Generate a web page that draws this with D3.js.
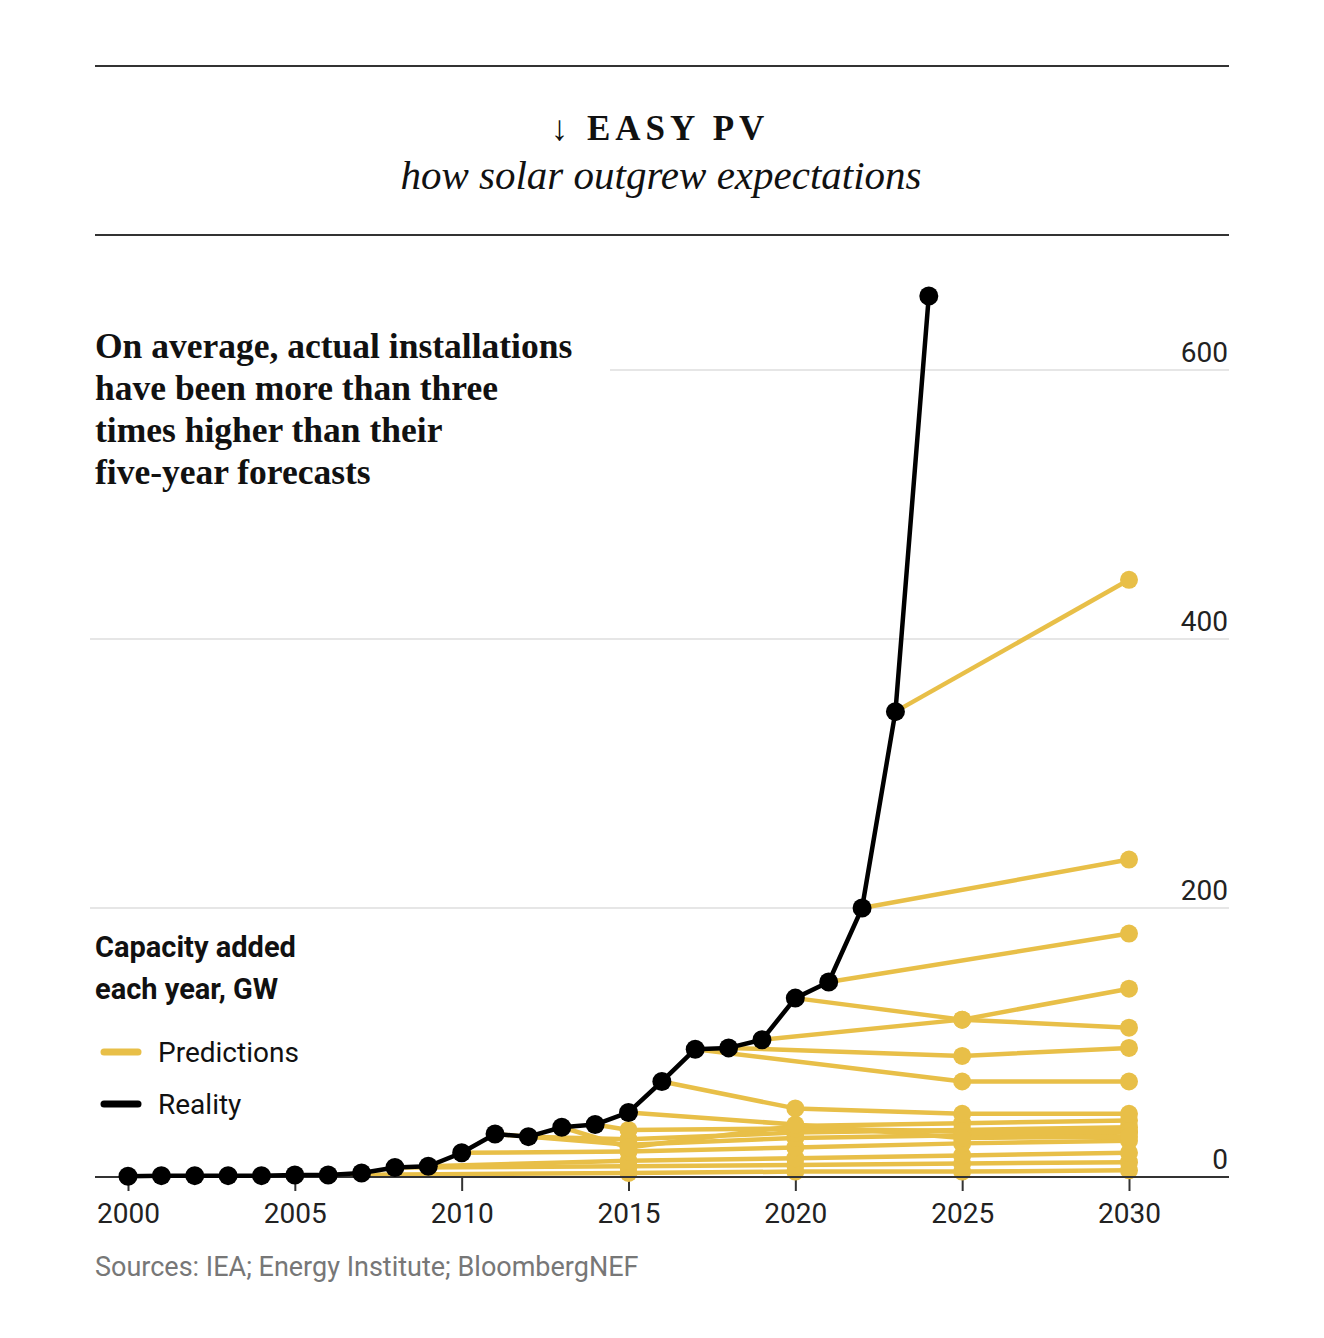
<!DOCTYPE html>
<html>
<head>
<meta charset="utf-8">
<script src="https://cdn.jsdelivr.net/npm/d3@7"></script>
<style>
  body { margin: 0; background: #fff; }
  svg { display: block; }
</style>
</head>
<body>
<div id="chart"></div>
<script>
// ---------------------------- data
var years = d3.range(2000, 2025);
var reality = [0.5, 1, 1, 1, 1, 1.5, 1.5, 3, 7, 8, 18, 32, 30, 37, 39, 48, 71, 95, 96, 102, 133, 145, 200, 346, 655];

// each forecast starts on the reality line and runs to its own points
var forecastFrom = [2006, 2008, 2009, 2010, 2011, 2012, 2013, 2014, 2015, 2016, 2017, 2018, 2019, 2020, 2021, 2022, 2023];
var forecastYears = [
  [2015, 2020, 2025, 2030],
  [2015, 2020, 2025, 2030],
  [2015, 2020, 2025, 2030],
  [2015, 2020, 2025, 2030],
  [2015, 2020, 2025, 2030],
  [2015, 2020, 2025, 2030],
  [2015, 2020, 2025, 2030],
  [2015, 2020, 2025, 2030],
  [2020, 2025, 2030],
  [2020, 2025, 2030],
  [2025, 2030],
  [2025, 2030],
  [2025, 2030],
  [2025, 2030],
  [2030],
  [2030],
  [2030]
];
var forecastValues = [
  [3, 4, 4, 5],
  [8, 9, 10, 11],
  [12, 14, 16, 18],
  [19, 22, 25, 27],
  [24, 29, 31, 33],
  [28, 33, 35, 37],
  [22, 38, 40, 42],
  [35, 36, 34, 34],
  [39, 29, 30],
  [51, 47, 47],
  [71, 71],
  [90, 96],
  [117, 111],
  [117, 140],
  [181],
  [236],
  [444]
];

var yTicks = [0, 200, 400, 600];
var xTicks = [2000, 2005, 2010, 2015, 2020, 2025, 2030];

var noteLines = ["On average, actual installations", "have been more than three", "times higher than their", "five-year forecasts"];
var legendTitle = ["Capacity added", "each year, GW"];
var legendItems = ["Predictions", "Reality"];

// ---------------------------- setup
var w = 1324;
var h = 1338;
var yellow = "#e8bf48";
var serif = "'Liberation Serif', 'DejaVu Serif', serif";
var sans = "Roboto, 'Liberation Sans', sans-serif";

var svg = d3.select("#chart")
    .append("svg")
    .attr("width", w)
    .attr("height", h);

var x = d3.scaleLinear().domain([2000, 2030]).range([128, 1129]);
var y = d3.scaleLinear().domain([0, 600]).range([1177, 370]);

// header rules and titles
svg.append("line").attr("x1", 95).attr("x2", 1229).attr("y1", 66).attr("y2", 66)
    .attr("stroke", "#333").attr("stroke-width", 2);
svg.append("line").attr("x1", 95).attr("x2", 1229).attr("y1", 235).attr("y2", 235)
    .attr("stroke", "#333").attr("stroke-width", 2);

svg.append("text")
    .attr("x", 660).attr("y", 140)
    .attr("text-anchor", "middle")
    .attr("font-family", serif)
    .attr("font-weight", "bold")
    .attr("font-size", "35px")
    .attr("letter-spacing", "5px")
    .attr("fill", "#111")
    .text("↓ EASY PV");

svg.append("text")
    .attr("x", 661).attr("y", 189)
    .attr("text-anchor", "middle")
    .attr("font-family", serif)
    .attr("font-style", "italic")
    .attr("font-size", "41px")
    .attr("fill", "#111")
    .text("how solar outgrew expectations");

// gridlines
svg.append("g").selectAll("line")
    .data(yTicks.filter(function(d) { return d > 0; }))
    .enter().append("line")
    .attr("x1", function(d) { return d == 600 ? 610 : 90; })
    .attr("x2", 1229)
    .attr("y1", function(d) { return y(d); })
    .attr("y2", function(d) { return y(d); })
    .attr("stroke", "#dedede")
    .attr("stroke-width", 1.5);

svg.append("g").selectAll("text")
    .data(yTicks)
    .enter().append("text")
    .attr("x", 1228)
    .attr("y", function(d) { return y(d) - 8; })
    .attr("text-anchor", "end")
    .attr("font-family", sans)
    .attr("font-size", "28px")
    .attr("fill", "#222")
    .text(function(d) { return d; });

// x axis
var xAxis = d3.axisBottom(x)
    .tickValues(xTicks)
    .tickFormat(d3.format("d"))
    .tickSize(14)
    .tickPadding(12);

var gx = svg.append("g")
    .attr("transform", "translate(0," + y(0) + ")")
    .call(xAxis);
gx.select(".domain").remove();
gx.selectAll(".tick line").attr("stroke", "#333").attr("stroke-width", 2);
gx.selectAll(".tick text")
    .attr("font-family", sans)
    .attr("font-size", "28px")
    .attr("fill", "#222");

// forecasts
var fc = forecastFrom.map(function(yr, i) {
    var pts = [{ year: yr, value: reality[yr - 2000] }];
    forecastYears[i].forEach(function(fy, j) {
        pts.push({ year: fy, value: forecastValues[i][j] });
    });
    return pts;
});

var line = d3.line()
    .x(function(d) { return x(d.year); })
    .y(function(d) { return y(d.value); });

svg.append("g").selectAll("path")
    .data(fc)
    .enter().append("path")
    .attr("d", line)
    .attr("fill", "none")
    .attr("stroke", yellow)
    .attr("stroke-width", 4.5)
    .attr("stroke-linejoin", "round");

svg.append("g").selectAll("circle")
    .data(d3.merge(fc.map(function(p) { return p.slice(1); })))
    .enter().append("circle")
    .attr("cx", function(d) { return x(d.year); })
    .attr("cy", function(d) { return y(d.value); })
    .attr("r", 9)
    .attr("fill", yellow);

// baseline on top of the predictions
svg.append("line").attr("x1", 95).attr("x2", 1229).attr("y1", y(0)).attr("y2", y(0))
    .attr("stroke", "#333").attr("stroke-width", 2);

// reality
var real = years.map(function(yr, i) { return { year: yr, value: reality[i] }; });

svg.append("path")
    .datum(real)
    .attr("d", line)
    .attr("fill", "none")
    .attr("stroke", "#000")
    .attr("stroke-width", 4.5)
    .attr("stroke-linejoin", "round");

svg.append("g").selectAll("circle")
    .data(real)
    .enter().append("circle")
    .attr("cx", function(d) { return x(d.year); })
    .attr("cy", function(d) { return y(d.value); })
    .attr("r", 9.5)
    .attr("fill", "#000");

// annotation
svg.append("g").selectAll("text")
    .data(noteLines)
    .enter().append("text")
    .attr("x", 95)
    .attr("y", function(d, i) { return 358 + i * 42; })
    .attr("font-family", serif)
    .attr("font-weight", "bold")
    .attr("font-size", "35.5px")
    .attr("fill", "#111")
    .text(function(d) { return d; });

// legend
svg.append("g").selectAll("text")
    .data(legendTitle)
    .enter().append("text")
    .attr("x", 95)
    .attr("y", function(d, i) { return 957 + i * 42; })
    .attr("font-family", sans)
    .attr("font-weight", "bold")
    .attr("font-size", "29px")
    .attr("fill", "#111")
    .text(function(d) { return d; });

var leg = svg.append("g").selectAll("g")
    .data(legendItems)
    .enter().append("g")
    .attr("transform", function(d, i) { return "translate(0," + (1052 + i * 52) + ")"; });

leg.append("line")
    .attr("x1", 104).attr("x2", 138)
    .attr("stroke", function(d, i) { return i == 0 ? yellow : "#000"; })
    .attr("stroke-width", 7)
    .attr("stroke-linecap", "round");

leg.append("text")
    .attr("x", 158)
    .attr("y", 10)
    .attr("font-family", sans)
    .attr("font-size", "28px")
    .attr("fill", "#111")
    .text(function(d) { return d; });

// source
svg.append("text")
    .attr("x", 95)
    .attr("y", 1276)
    .attr("font-family", sans)
    .attr("font-size", "27px")
    .attr("fill", "#777")
    .text("Sources: IEA; Energy Institute; BloombergNEF");
</script>
</body>
</html>
